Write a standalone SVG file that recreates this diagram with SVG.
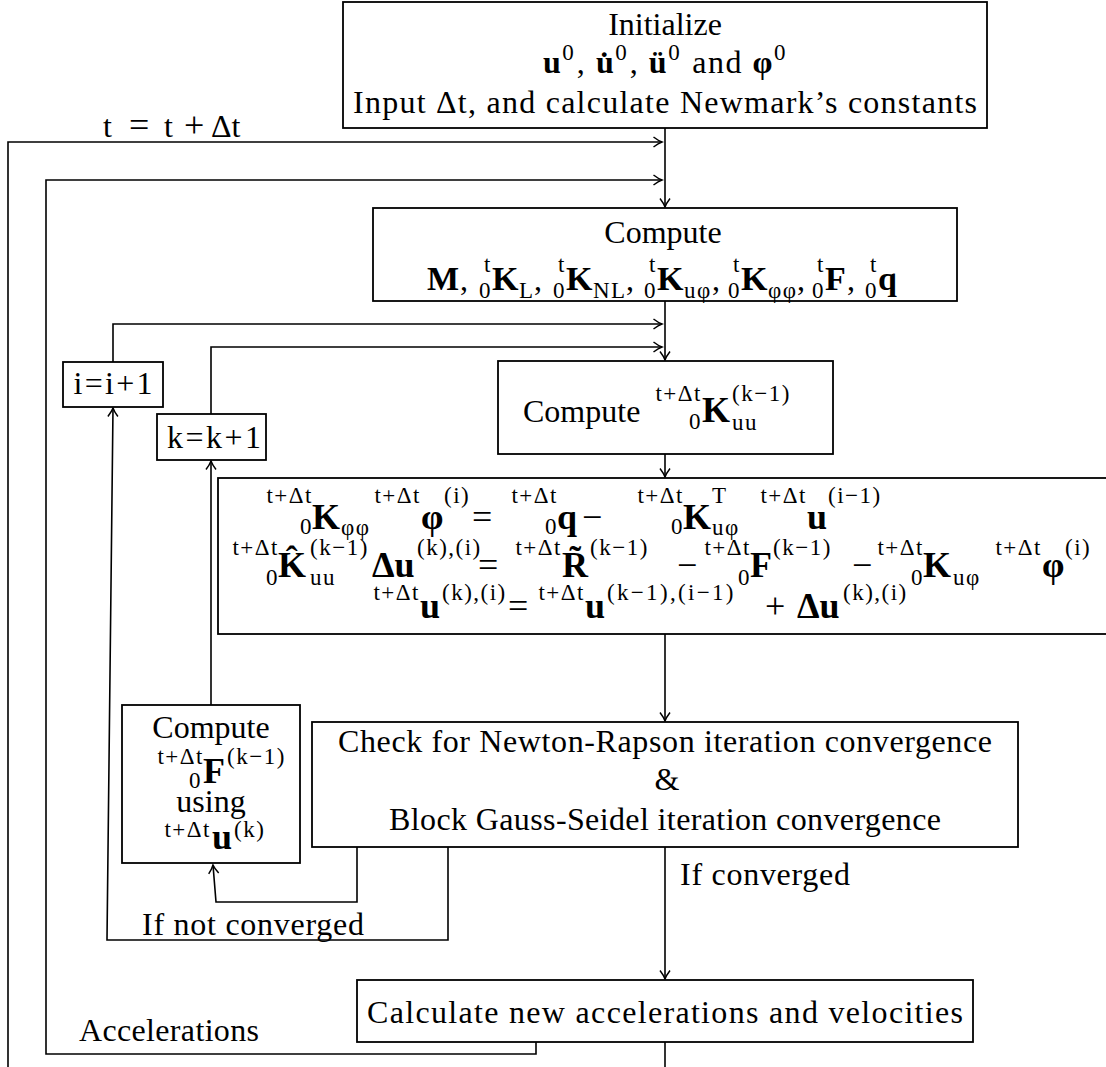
<svg xmlns="http://www.w3.org/2000/svg" width="1106" height="1067" viewBox="0 0 1106 1067">
<defs>
<style>
.bx{fill:#fff;stroke:#000;stroke-width:1.8}
.ln{fill:none;stroke:#000;stroke-width:1.6}
.ar{marker-end:url(#ah)}
text{font-family:"Liberation Serif",serif;fill:#000}
.t{font-size:32px}
.o{font-size:36px}
.c{text-anchor:middle}
.e{text-anchor:end}
.b{font-weight:bold}
.m{font-size:36px;font-weight:bold}
.m2{font-size:34px;font-weight:bold}
.s{font-size:23px;letter-spacing:1.5px}
</style>
<marker id="ah" viewBox="-11 -7 13 14" refX="0" refY="0" markerWidth="13" markerHeight="14" markerUnits="userSpaceOnUse" orient="auto">
<path d="M-8.5,-5 Q-3.5,-1.2 0,0 Q-3.5,1.2 -8.5,5" fill="none" stroke="#000" stroke-width="1.5"/>
</marker>
</defs>
<rect width="1106" height="1067" fill="#fff"/>

<g id="connectors">
<path class="ln ar" d="M665,128 V207"/>
<path class="ln ar" d="M665,301 V360"/>
<path class="ln ar" d="M665,454 V477"/>
<path class="ln ar" d="M665,634 V721"/>
<path class="ln ar" d="M665,847 V979"/>
<path class="ln" d="M665,1042 V1067"/>
<path class="ln ar" d="M8,1067 V142 H662"/>
<path class="ln ar" d="M536,1042 V1054 H46 V180 H662"/>
<path class="ln ar" d="M113,362 V324 H662"/>
<path class="ln ar" d="M211,414 V347 H662"/>
<path class="ln ar" d="M211,705 V461"/>
<path class="ln ar" d="M357,847 V902 H216 L213,865"/>
<path class="ln ar" d="M448,847 V940 H107 L113,408"/>
</g>

<g id="labels">
<text class="t" y="137"><tspan x="103">t</tspan><tspan class="o" x="129">=</tspan><tspan x="164">t</tspan><tspan class="o" x="184">+</tspan><tspan x="211">Δt</tspan></text>
<text class="t" x="79" y="1041" textLength="180">Accelerations</text>
<text class="t" x="680" y="885" textLength="170">If converged</text>
<text class="t" x="142" y="935" textLength="222">If not converged</text>
</g>

<g id="init">
<rect class="bx" x="343" y="2" width="644" height="126"/>
<text class="t c" x="665" y="35">Initialize</text>
<text class="t c" x="665" y="73" textLength="244"><tspan class="b">u</tspan><tspan class="s" dy="-13">0</tspan><tspan dy="13">, </tspan><tspan class="b">u&#775;</tspan><tspan class="s" dy="-13">0</tspan><tspan dy="13">, </tspan><tspan class="b">ü</tspan><tspan class="s" dy="-13">0</tspan><tspan dy="13"> and </tspan><tspan class="b">φ</tspan><tspan class="s" dy="-13">0</tspan></text>
<text class="t c" x="665" y="113" textLength="624">Input Δt, and calculate Newmark’s constants</text>
</g>

<g id="compute1">
<rect class="bx" x="373" y="208" width="584" height="93"/>
<text class="t c" x="663" y="243">Compute</text>
<text class="m2" x="427" y="290">M</text><text class="t" x="460" y="290">,</text>
<text class="s e" x="492" y="272">t</text><text class="s e" x="492" y="298">0</text><text class="m2" x="492" y="290">K</text><text class="s" x="519" y="298">L</text><text class="t" x="534" y="290">,</text>
<text class="s e" x="566" y="272">t</text><text class="s e" x="566" y="298">0</text><text class="m2" x="566" y="290">K</text><text class="s" x="593" y="298">NL</text><text class="t" x="626" y="290">,</text>
<text class="s e" x="657" y="272">t</text><text class="s e" x="657" y="298">0</text><text class="m2" x="657" y="290">K</text><text class="s" x="684" y="298">uφ</text><text class="t" x="712" y="290">,</text>
<text class="s e" x="741" y="272">t</text><text class="s e" x="741" y="298">0</text><text class="m2" x="741" y="290">K</text><text class="s" x="768" y="298">φφ</text><text class="t" x="797" y="290">,</text>
<text class="s e" x="825" y="272">t</text><text class="s e" x="825" y="298">0</text><text class="m2" x="825" y="290">F</text><text class="t" x="847" y="290">,</text>
<text class="s e" x="878" y="272">t</text><text class="s e" x="878" y="298">0</text><text class="m2" x="878" y="290">q</text>
</g>

<g id="inc-i">
<rect class="bx" x="63" y="362" width="100" height="45"/>
<text class="t c" x="113" y="394" textLength="79">i=i+1</text>
</g>

<g id="inc-k">
<rect class="bx" x="157" y="414" width="109" height="46"/>
<text class="t c" x="214" y="448" textLength="94">k=k+1</text>
</g>

<g id="compute-kuu">
<rect class="bx" x="498" y="361" width="335" height="93"/>
<text class="t" x="523" y="422">Compute</text>
<text class="s e" x="702" y="401">t+Δt</text><text class="s e" x="702" y="429">0</text><text class="m" x="702" y="422">K</text><text class="s" x="732" y="401">(k−1)</text><text class="s" x="732" y="430">uu</text>
</g>

<g id="solve">
<rect class="bx" x="218" y="478" width="894" height="156"/>
<!-- line 1 -->
<text class="s e" x="313" y="503">t+Δt</text><text class="s e" x="313" y="534">0</text><text class="m" x="312" y="529">K</text><text class="s" x="341" y="535">φφ</text>
<text class="s e" x="421" y="503">t+Δt</text><text class="m" x="421" y="529">φ</text><text class="s" x="444" y="503">(i)</text>
<text class="o" x="472" y="529">=</text>
<text class="s e" x="558" y="503">t+Δt</text><text class="s e" x="558" y="534">0</text><text class="m" x="557" y="529">q</text>
<text class="o" x="582" y="529">−</text>
<text class="s e" x="684" y="503">t+Δt</text><text class="s e" x="684" y="534">0</text><text class="m" x="683" y="529">K</text><text class="s" x="712" y="503">T</text><text class="s" x="712" y="535">uφ</text>
<text class="s e" x="807" y="503">t+Δt</text><text class="m" x="807" y="529">u</text><text class="s" x="828" y="503">(i−1)</text>
<!-- line 2 -->
<text class="s e" x="279" y="555">t+Δt</text><text class="s e" x="279" y="585">0</text><text class="m" x="278" y="577">K&#770;</text><text class="s" x="310" y="555">(k−1)</text><text class="s" x="310" y="585">uu</text>
<text class="m" x="372" y="577">Δu</text><text class="s" x="417" y="555">(k),(i)</text>
<text class="o" x="478" y="577">=</text>
<text class="s e" x="562" y="555">t+Δt</text><text class="m" x="562" y="577">R&#771;</text><text class="s" x="590" y="555">(k−1)</text>
<text class="o" x="677" y="577">−</text>
<text class="s e" x="751" y="555">t+Δt</text><text class="s e" x="751" y="585">0</text><text class="m" x="750" y="577">F</text><text class="s" x="773" y="555">(k−1)</text>
<text class="o" x="852" y="577">−</text>
<text class="s e" x="924" y="555">t+Δt</text><text class="s e" x="924" y="585">0</text><text class="m" x="923" y="577">K</text><text class="s" x="953" y="585">uφ</text>
<text class="s e" x="1042" y="555">t+Δt</text><text class="m" x="1042" y="577">φ</text><text class="s" x="1065" y="555">(i)</text>
<!-- line 3 -->
<text class="s e" x="420" y="600">t+Δt</text><text class="m" x="420" y="618">u</text><text class="s" x="442" y="600">(k),(i)</text>
<text class="o" x="508" y="618">=</text>
<text class="s e" x="585" y="600">t+Δt</text><text class="m" x="585" y="618">u</text><text class="s" x="607" y="600" textLength="128">(k−1),(i−1)</text>
<text class="o" x="765" y="618">+</text>
<text class="m" x="797" y="618">Δu</text><text class="s" x="843" y="600">(k),(i)</text>
</g>

<g id="compute-f">
<rect class="bx" x="122" y="705" width="178" height="158"/>
<text class="t c" x="211" y="738">Compute</text>
<text class="s e" x="204" y="764">t+Δt</text><text class="s e" x="202" y="788">0</text><text class="m" x="203" y="783">F</text><text class="s" x="227" y="764">(k−1)</text>
<text class="t c" x="211" y="812">using</text>
<text class="s e" x="211" y="837">t+Δt</text><text class="m" x="212" y="849">u</text><text class="s" x="234" y="837">(k)</text>
</g>

<g id="check">
<rect class="bx" x="312" y="722" width="706" height="125"/>
<text class="t c" x="665" y="752" textLength="654">Check for Newton-Rapson iteration convergence</text>
<text class="t c" x="667" y="790">&amp;</text>
<text class="t c" x="665" y="830" textLength="552">Block Gauss-Seidel iteration convergence</text>
</g>

<g id="update">
<rect class="bx" x="357" y="980" width="616" height="62"/>
<text class="t c" x="665" y="1023" textLength="596">Calculate new accelerations and velocities</text>
</g>
</svg>
